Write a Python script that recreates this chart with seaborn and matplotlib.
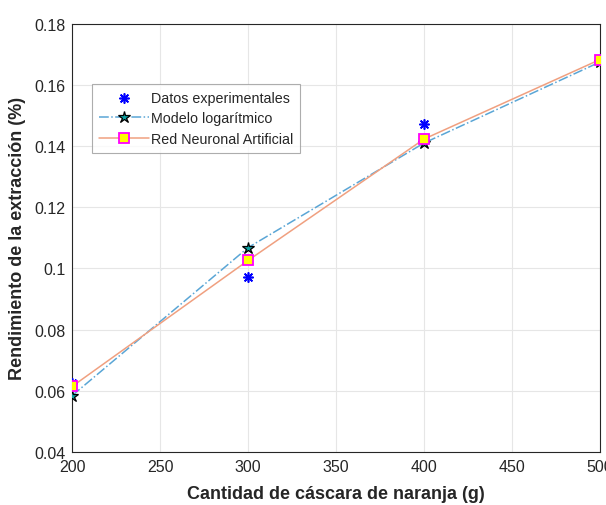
import numpy as np
import pandas as pd
import matplotlib
matplotlib.use('Agg')
import matplotlib.pyplot as plt
import seaborn as sns

# datos
cantidad = [200, 300, 400, 500]
datos_exp = [0.0625, 0.0973, 0.1472, 0.1680]
modelo_log = [0.0584, 0.1068, 0.1410, 0.1675]
red_neuronal = [0.0614, 0.1026, 0.1423, 0.1683]

df = pd.DataFrame({'x': cantidad, 'exp': datos_exp, 'log': modelo_log, 'rna': red_neuronal})

sns.set_style('whitegrid')
plt.rcParams['font.family'] = ['Liberation Sans', 'DejaVu Sans']

fig = plt.figure(figsize=(6.06, 5.06), dpi=100)
ax = fig.add_axes([0.119, 0.105, 0.871, 0.846])

sns.scatterplot(data=df, x='x', y='exp', ax=ax, marker=(8, 2, 0), s=45, color='#0000ff',
                linewidth=1.2, label='Datos experimentales', zorder=3)
sns.lineplot(data=df, x='x', y='log', ax=ax, color='#5aa6d6', linestyle='-.', linewidth=1.1,
             marker='*', markersize=9, markerfacecolor='#10a0a0', markeredgecolor='black',
             markeredgewidth=0.9, label='Modelo logarítmico', zorder=4)
sns.lineplot(data=df, x='x', y='rna', ax=ax, color='#f0a080', linestyle='-', linewidth=1.1,
             marker='s', markersize=7, markerfacecolor='#ffff00', markeredgecolor='#ff00ff',
             markeredgewidth=1.3, label='Red Neuronal Artificial', zorder=5)

ax.set_xlim(200, 500)
ax.set_ylim(0.04, 0.18)
ax.set_xticks([200, 250, 300, 350, 400, 450, 500])
ax.set_yticks([0.04, 0.06, 0.08, 0.1, 0.12, 0.14, 0.16, 0.18])
ax.set_yticklabels(['0.04', '0.06', '0.08', '0.1', '0.12', '0.14', '0.16', '0.18'])
ax.tick_params(labelsize=11.5, colors='#262626', direction='in', length=4, pad=5)
ax.grid(True, color='#e6e6e6', linewidth=0.8)
for s in ax.spines.values():
    s.set_color('#262626')
    s.set_linewidth(0.8)

ax.set_xlabel('Cantidad de cáscara de naranja (g)', fontsize=13, fontweight='bold', labelpad=8)
ax.set_ylabel('Rendimiento de la extracción (%)', fontsize=13, fontweight='bold', labelpad=6)

leg = ax.legend(loc='upper left', bbox_to_anchor=(0.038, 0.86), fontsize=10.3, frameon=True,
                fancybox=False, edgecolor='#999999', borderpad=0.5, labelspacing=0.45,
                handlelength=3.5, handletextpad=0.1, borderaxespad=0)
leg.get_frame().set_linewidth(0.8)

fig.savefig('out.png', dpi=100)
